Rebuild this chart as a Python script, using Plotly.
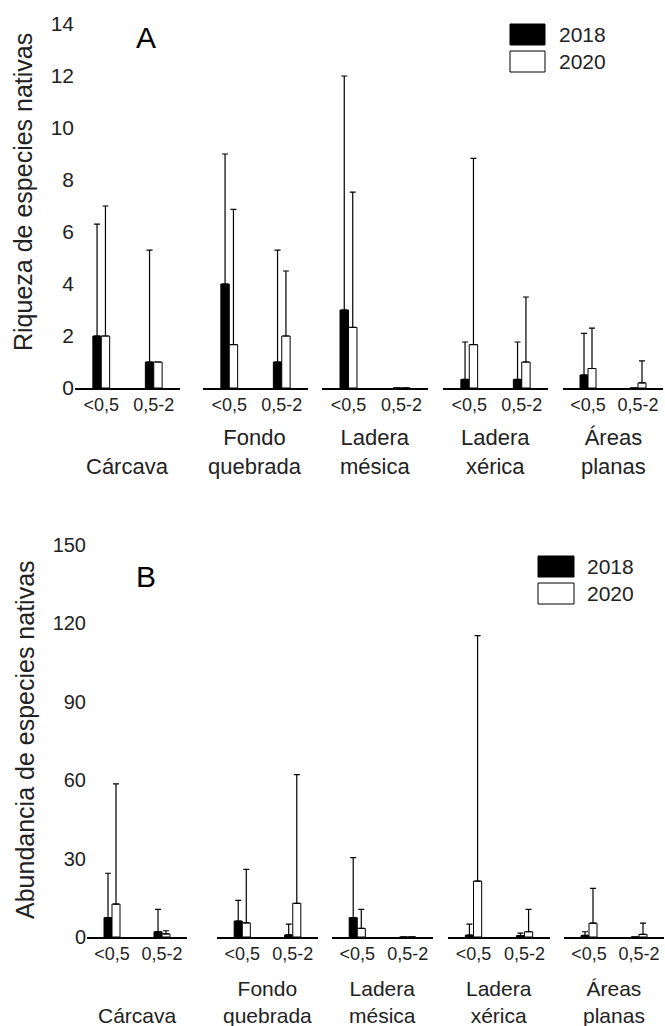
import plotly.graph_objects as go

W, H = 665, 1026

# ---------------- data ----------------
groups = ["Cárcava", "Fondo<br>quebrada", "Ladera<br>mésica", "Ladera<br>xérica", "Áreas<br>planas"]
sizes = ["<0,5", "0,5-2"]
years = ["2018", "2020"]

# Panel A: Riqueza de especies nativas (values per group: [<0,5, 0,5-2])
riq_mean_2018 = [[2.0, 1.0], [4.0, 1.0], [3.0, 0.0], [0.33, 0.33], [0.5, 0.0]]
riq_sd_2018 = [[4.3, 4.3], [5.0, 4.3], [9.0, None], [1.44, 1.44], [1.6, None]]
riq_mean_2020 = [[2.0, 1.0], [1.67, 2.0], [2.33, 0.0], [1.67, 1.0], [0.75, 0.2]]
riq_sd_2020 = [[5.0, None], [5.2, 2.5], [5.2, None], [7.16, 2.5], [1.55, 0.84]]

# Panel B: Abundancia de especies nativas
abu_mean_2018 = [[7.4, 2.0], [6.1, 0.8], [7.4, 0.0], [0.7, 0.5], [0.6, 0.0]]
abu_sd_2018 = [[17.0, 8.6], [7.9, 4.1], [23.0, None], [4.2, 1.0], [1.4, None]]
abu_mean_2020 = [[12.6, 1.2], [5.4, 12.9], [3.3, 0.0], [21.4, 2.0], [5.3, 1.0]]
abu_sd_2020 = [[46.0, 1.2], [20.5, 49.2], [7.3, None], [93.9, 8.6], [13.3, 4.3]]

# ---------------- layout helpers ----------------
def px(x):
    return x / W

def py(y):
    return 1 - y / H

panels = [
    dict(title="Riqueza de especies nativas", letter="A",
         m18=riq_mean_2018, s18=riq_sd_2018, m20=riq_mean_2020, s20=riq_sd_2020,
         xdom=[(75, 180), (203, 308), (322, 428), (443, 548), (563, 663)],
         y0=388, ytop=24, yrange=[0, 14], dtick=2, yfont=21,
         titlex=23, titley=192, letterxy=(146, 37),
         tick_lab_y=405, grp_bottom=481, gfont=22,
         leg=(510, 545, 24, 45, 51, 72, 557)),
    dict(title="Abundancia de especies nativas", letter="B",
         m18=abu_mean_2018, s18=abu_sd_2018, m20=abu_mean_2020, s20=abu_sd_2020,
         xdom=[(87, 187), (217, 318), (332, 433), (448, 550), (564, 664)],
         y0=937, ytop=545, yrange=[0, 150], dtick=30, yfont=20,
         titlex=25, titley=740, letterxy=(146, 576),
         tick_lab_y=954, grp_bottom=1029, gfont=21,
         leg=(538, 574, 556, 577, 583, 604, 585)),
]

fig = go.Figure()
layout = {}
annotations = []
shapes = []
FONT = "Liberation Sans, Arial, sans-serif"
TXT = "#222222"

k = 0
for pi, p in enumerate(panels):
    for gi, gname in enumerate(groups):
        k += 1
        xa = "x" if k == 1 else f"x{k}"
        ya = "y" if k == 1 else f"y{k}"
        for yr, means, sds, fill in [("2018", p["m18"], p["s18"], "black"),
                                     ("2020", p["m20"], p["s20"], "white")]:
            fig.add_trace(go.Bar(
                x=sizes, y=means[gi], name=yr, showlegend=False,
                marker=dict(color=fill, line=dict(color="black", width=1)),
                error_y=dict(type="data", symmetric=False, array=sds[gi],
                             arrayminus=[0, 0], color="black", thickness=1.2,
                             width=3, visible=True),
                xaxis=xa, yaxis=ya,
            ))
        x0, x1 = p["xdom"][gi]
        layout["xaxis" if k == 1 else f"xaxis{k}"] = dict(
            domain=[px(x0), px(x1)], anchor=ya, type="category",
            categoryorder="array", categoryarray=sizes, range=[-0.5, 1.5],
            showline=True, linecolor="black", linewidth=1.5, ticks="",
            showgrid=False, zeroline=False, fixedrange=True, automargin=False,
            tickfont=dict(size=18, color=TXT, family=FONT),
        )
        layout["yaxis" if k == 1 else f"yaxis{k}"] = dict(
            domain=[py(p["y0"]), py(p["ytop"])], anchor=xa,
            range=p["yrange"], dtick=p["dtick"], showgrid=False,
            zeroline=False, showline=False, ticks="", ticklen=0,
            automargin=False, fixedrange=True,
            showticklabels=(gi == 0), ticklabelstandoff=0,
            tickfont=dict(size=p["yfont"], color=TXT, family=FONT),
        )
        annotations.append(dict(
            text=gname, xref="paper", yref="paper",
            x=px((x0 + x1) / 2), y=py(p["grp_bottom"]),
            xanchor="center", yanchor="bottom", showarrow=False,
            font=dict(size=p["gfont"], color=TXT, family=FONT),
        ))
    # y-axis title
    annotations.append(dict(
        text=p["title"], xref="paper", yref="paper",
        x=px(p["titlex"]), y=py(p["titley"]), textangle=-90,
        xanchor="center", yanchor="middle", showarrow=False,
        font=dict(size=25, color=TXT, family=FONT),
    ))
    # panel letter
    annotations.append(dict(
        text=p["letter"], xref="paper", yref="paper",
        x=px(p["letterxy"][0]), y=py(p["letterxy"][1]),
        xanchor="center", yanchor="middle", showarrow=False,
        font=dict(size=30, color="black", family=FONT),
    ))
    # legend
    lx0, lx1, b0, b1, w0, w1, tx = p["leg"]
    shapes.append(dict(type="rect", xref="paper", yref="paper",
                       x0=px(lx0), x1=px(lx1), y0=py(b1), y1=py(b0),
                       fillcolor="black", line=dict(color="black", width=1)))
    shapes.append(dict(type="rect", xref="paper", yref="paper",
                       x0=px(lx0), x1=px(lx1), y0=py(w1), y1=py(w0),
                       fillcolor="white", line=dict(color="black", width=1)))
    for yr, (t0, t1) in zip(years, [(b0, b1), (w0, w1)]):
        annotations.append(dict(
            text=yr, xref="paper", yref="paper",
            x=px(tx), y=py((t0 + t1) / 2), xanchor="left", yanchor="middle",
            showarrow=False, font=dict(size=21, color=TXT, family=FONT),
        ))

fig.update_layout(
    template="none",
    width=W, height=H, margin=dict(l=0, r=0, t=0, b=0, pad=0),
    paper_bgcolor="white", plot_bgcolor="white",
    barmode="group", bargap=0.68, bargroupgap=0,
    showlegend=False, annotations=annotations, shapes=shapes,
    font=dict(family=FONT, color=TXT), hovermode=False,
    **layout,
)

fig.write_html("out.html", config={"displayModeBar": False, "staticPlot": True},
               post_script="document.body.style.margin='0px';")
